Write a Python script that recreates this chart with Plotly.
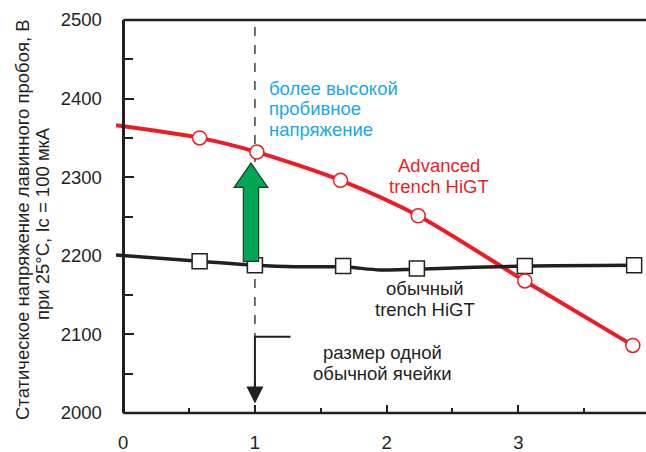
import plotly.graph_objects as go

# ---- data ----
adv_line_x = [-0.055, 0.58, 1.015, 1.65, 2.24, 3.05, 3.87]
adv_line_y = [2366, 2350, 2332, 2296, 2251, 2168, 2086]
adv_mark_x = [0.58, 1.015, 1.65, 2.24, 3.05, 3.87]
adv_mark_y = [2350, 2332, 2296, 2251, 2168, 2086]

conv_line_x = [-0.055, 0.58, 1.0, 1.3, 1.67, 1.95, 2.23, 3.05, 3.88]
conv_line_y = [2201, 2193, 2188, 2186, 2186, 2182, 2183, 2187, 2188]
conv_mark_x = [0.58, 1.0, 1.67, 2.23, 3.05, 3.88]
conv_mark_y = [2193, 2188, 2187, 2184, 2187, 2188]

x_ticks = [0, 1, 2, 3]
y_ticks = [2000, 2100, 2200, 2300, 2400, 2500]

X_RANGE = [-0.055, 3.97]
Y_RANGE = [2000, 2500]

RED = "#ed1c24"
BLACK = "#231f20"
CYAN = "#19a8e6"
GREEN = "#00a651"
FONT = "Liberation Sans, Arial, sans-serif"
FS = 18.5

W, H = 646, 452
ML, MR, MT, MB = 116, 0, 20, 39
pw, ph = W - ML - MR, H - MT - MB


def py_to_y(py):
    return Y_RANGE[1] - (py - MT) / ph * (Y_RANGE[1] - Y_RANGE[0])


fig = go.Figure()

fig.add_trace(go.Scatter(x=adv_line_x, y=adv_line_y, mode="lines",
                         line=dict(color=RED, width=4, shape="spline", smoothing=0.8),
                         hoverinfo="skip", showlegend=False))
fig.add_trace(go.Scatter(x=conv_line_x, y=conv_line_y, mode="lines",
                         line=dict(color=BLACK, width=3.5, shape="spline", smoothing=0.8),
                         hoverinfo="skip", showlegend=False))
fig.add_trace(go.Scatter(x=conv_mark_x, y=conv_mark_y, mode="markers",
                         marker=dict(symbol="square", size=15, color="white",
                                     line=dict(color=BLACK, width=1.5)),
                         showlegend=False))
fig.add_trace(go.Scatter(x=adv_mark_x, y=adv_mark_y, mode="markers",
                         marker=dict(symbol="circle", size=14, color="white",
                                     line=dict(color=RED, width=1.5)),
                         showlegend=False))

shapes = []
shapes.append(dict(type="line", xref="x", yref="paper", x0=0, x1=X_RANGE[1], y0=1, y1=1,
                   line=dict(color=BLACK, width=2.5)))
shapes.append(dict(type="line", xref="x", yref="paper", x0=0, x1=X_RANGE[1], y0=0, y1=0,
                   line=dict(color=BLACK, width=2.5)))
shapes.append(dict(type="line", xref="x", yref="y", x0=1, x1=1, y0=2491, y1=2097,
                   line=dict(color=BLACK, width=1.3, dash="dash"), layer="below"))
shapes.append(dict(type="path", xref="x", yref="y",
                   path="M 1.27 2097 L 1.0 2097 L 1.0 2030",
                   line=dict(color=BLACK, width=2)))
ax0, ay0, ay1 = 0.97, 2193, 2318
sw, hw, hb = 0.058, 0.128, 2287
shapes.append(dict(type="path", xref="x", yref="y",
                   path=(f"M {ax0-sw} {ay0} L {ax0-sw} {hb} L {ax0-hw} {hb} L {ax0} {ay1} "
                         f"L {ax0+hw} {hb} L {ax0+sw} {hb} L {ax0+sw} {ay0} Z"),
                   fillcolor=GREEN, line=dict(color="#1d3b26", width=1.2), layer="above"))

annotations = [
    dict(x=1, y=2012, ax=1, ay=2042, xref="x", yref="y", axref="x", ayref="y",
         text="", showarrow=True, arrowhead=2, arrowsize=1.7, arrowwidth=2, arrowcolor=BLACK),
]


def text_lines(lines, x, pys, color, anchor):
    for t, py in zip(lines, pys):
        annotations.append(dict(x=x, y=py_to_y(py), xref="x", yref="y", xanchor=anchor,
                                yanchor="middle", text=t, showarrow=False,
                                font=dict(family=FONT, size=FS, color=color)))


text_lines(["более высокой", "пробивное", "напряжение"], 1.09, [88, 108.5, 129.5], CYAN, "left")
text_lines(["Advanced", "trench HiGT"], 2.40, [165, 186], RED, "center")
text_lines(["обычный", "trench HiGT"], 2.295, [288, 309], BLACK, "center")
text_lines(["размер одной", "обычной ячейки"], 1.97, [352, 373], BLACK, "center")

for t, px, py in [("Статическое напряжение лавинного пробоя, В", 22, 220),
                  ("при 25°C, Ic = 100 мкА", 42, 224)]:
    annotations.append(dict(x=(px - ML) / pw, y=1 - (py - MT) / ph, xref="paper", yref="paper",
                            xanchor="center", yanchor="middle", text=t, textangle=-90,
                            showarrow=False, font=dict(family=FONT, size=FS, color=BLACK)))

yaxis_pos = (0 - X_RANGE[0]) / (X_RANGE[1] - X_RANGE[0])

fig.update_layout(
    width=W, height=H, margin=dict(l=ML, r=MR, t=MT, b=MB, pad=0, autoexpand=False),
    paper_bgcolor="white", plot_bgcolor="white",
    font=dict(family=FONT, color=BLACK),
    shapes=shapes, annotations=annotations,
    xaxis=dict(range=X_RANGE, tickvals=x_ticks, ticktext=[str(v) for v in x_ticks],
               ticks="inside", ticklen=8, tickwidth=1.5, tickcolor=BLACK,
               minor=dict(tickvals=[0.5, 1.5, 2.5, 3.5], ticks="inside", ticklen=5,
                          tickwidth=1.5, tickcolor=BLACK),
               showline=False, showgrid=False, zeroline=False, automargin=False,
               tickfont=dict(family=FONT, size=FS, color=BLACK), ticklabelstandoff=16),
    yaxis=dict(range=Y_RANGE, tickvals=y_ticks, ticktext=[str(v) for v in y_ticks],
               anchor="free", position=yaxis_pos, automargin=False,
               ticks="inside", ticklen=9, tickwidth=1.5, tickcolor=BLACK,
               minor=dict(dtick=50, ticks="inside", ticklen=8, tickwidth=1.5, tickcolor=BLACK),
               showline=True, linecolor=BLACK, linewidth=2.5,
               showgrid=False, zeroline=False,
               tickfont=dict(family=FONT, size=FS, color=BLACK), ticklabelstandoff=17),
)

fig.write_html("out.html")
